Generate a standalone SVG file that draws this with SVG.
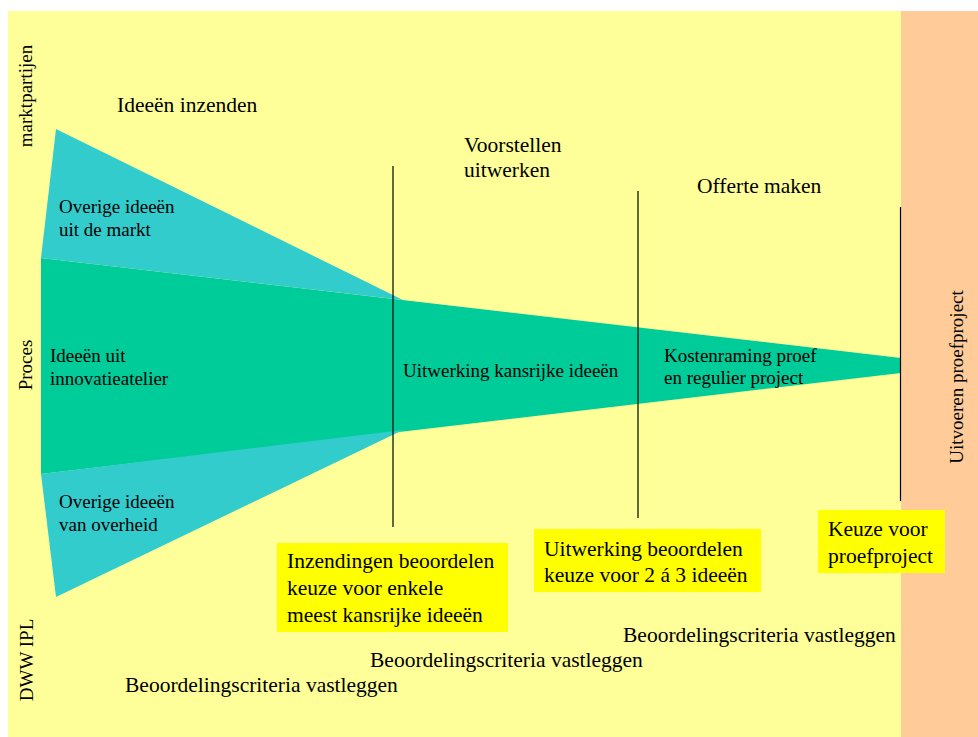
<svg xmlns="http://www.w3.org/2000/svg" width="978" height="737" viewBox="0 0 978 737">
<style>
text { font-family: "Liberation Serif", "Times New Roman", serif; fill: #000; }
.lg { font-size: 21.5px; }
.sm { font-size: 19px; }
.teal { fill: #33CCCC; }
.green { fill: #00CC99; }
.box { fill: #FFFF00; }
.div { stroke: #000; stroke-width: 1.2; fill: none; }
</style>
<rect x="0" y="0" width="978" height="737" fill="#FFFFFF"/>
<rect id="bg" x="8" y="11" width="893" height="726" fill="#FFFF99"/>
<rect id="exec-band" x="901" y="11" width="77" height="726" fill="#FFCC99"/>

<g id="lane-labels">
  <text class="sm" transform="translate(31.5,96) rotate(-90)" text-anchor="middle">marktpartijen</text>
  <text class="sm" transform="translate(32,365) rotate(-90)" text-anchor="middle">Proces</text>
  <text class="sm" transform="translate(33,660) rotate(-90)" text-anchor="middle">DWW IPL</text>
  <text class="sm" transform="translate(963,377) rotate(-90)" text-anchor="middle">Uitvoeren proefproject</text>
</g>

<g id="funnel-main">
  <polygon class="green" points="41,258 901,358 901,373 41,474"/>
  <text class="sm" x="50" y="362">Ideeën uit</text>
  <text class="sm" x="50" y="385">innovatieatelier</text>
  <text class="sm" x="403" y="377">Uitwerking kansrijke ideeën</text>
  <text class="sm" x="664" y="362">Kostenraming proef</text>
  <text class="sm" x="664" y="384">en regulier project</text>
</g>

<g id="funnel-market">
  <polygon class="teal" points="56,129 41,258 403,300"/>
  <text class="sm" x="59" y="213">Overige ideeën</text>
  <text class="sm" x="59" y="236">uit de markt</text>
</g>

<g id="funnel-government">
  <polygon class="teal" points="41,474 56,597 403,430"/>
  <text class="sm" x="59" y="508">Overige ideeën</text>
  <text class="sm" x="59" y="531">van overheid</text>
</g>

<g id="connectors">
  <line class="div" x1="393" y1="166" x2="393" y2="527"/>
  <line class="div" x1="638" y1="191" x2="638" y2="518"/>
  <line class="div" x1="900.5" y1="207" x2="900.5" y2="501"/>
</g>

<g id="phase-labels">
  <text class="lg" x="117" y="112">Ideeën inzenden</text>
  <text class="lg" x="464" y="152">Voorstellen</text>
  <text class="lg" x="464" y="177">uitwerken</text>
  <text class="lg" x="697" y="193">Offerte maken</text>
</g>

<g id="decision-1">
  <rect class="box" x="277" y="543" width="231" height="89"/>
  <text class="lg" x="287" y="568">Inzendingen beoordelen</text>
  <text class="lg" x="287" y="595">keuze voor enkele</text>
  <text class="lg" x="287" y="621.5">meest kansrijke ideeën</text>
</g>

<g id="decision-2">
  <rect class="box" x="534" y="529" width="227" height="63"/>
  <text class="lg" x="544" y="556">Uitwerking beoordelen</text>
  <text class="lg" x="544" y="582">keuze voor 2 á 3 ideeën</text>
</g>

<g id="decision-3">
  <rect class="box" x="818" y="510" width="127" height="63"/>
  <text class="lg" x="828" y="536">Keuze voor</text>
  <text class="lg" x="828" y="563">proefproject</text>
</g>

<g id="criteria">
  <text class="lg" x="125" y="692">Beoordelingscriteria vastleggen</text>
  <text class="lg" x="370" y="667">Beoordelingscriteria vastleggen</text>
  <text class="lg" x="623" y="642">Beoordelingscriteria vastleggen</text>
</g>
</svg>
